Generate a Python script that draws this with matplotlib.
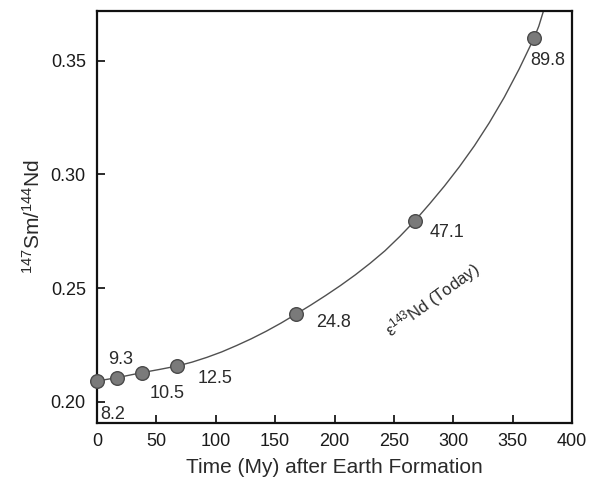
import matplotlib
matplotlib.use("Agg")
import matplotlib.pyplot as plt

plt.rcParams['font.family'] = ['Liberation Sans', 'DejaVu Sans']
plt.rcParams['mathtext.fontset'] = 'custom'
plt.rcParams['mathtext.rm'] = 'Liberation Sans'
plt.rcParams['mathtext.it'] = 'Liberation Sans'
plt.rcParams['mathtext.default'] = 'rm'

# Data points (time in My after Earth formation, 147Sm/144Nd)
time_my = [0, 17.2, 38, 67.5, 167.5, 267.5, 368]
sm_nd = [0.2091, 0.2106, 0.2128, 0.2157, 0.2385, 0.2795, 0.3600]
eps_labels = ["8.2", "9.3", "10.5", "12.5", "24.8", "47.1", "89.8"]

# Curve
curve_x = [0, 8.6, 17.2, 27.6, 38, 52.7, 67.5, 80, 92.5, 105, 117.5, 130,
           142.5, 155, 167.5, 180, 192.5, 205, 217.5, 230, 242.5, 255,
           267.5, 280, 292.6, 305.2, 317.8, 330.3, 342.9, 355.4, 368, 372, 376]
curve_y = [0.2091, 0.20985, 0.2106, 0.2117, 0.2128, 0.2142, 0.2157, 0.2174,
           0.2195, 0.2219, 0.2247, 0.2277, 0.2310, 0.2346, 0.2385, 0.2425,
           0.2467, 0.2511, 0.2558, 0.2609, 0.2664, 0.2727, 0.2795, 0.2870,
           0.2949, 0.3034, 0.3126, 0.3227, 0.3339, 0.3463, 0.3600, 0.3652, 0.3720]

x_ticks = [0, 50, 100, 150, 200, 250, 300, 350, 400]
y_ticks = [0.20, 0.25, 0.30, 0.35]

# label offsets in points (dx, dy)
label_offsets = [(11, -24), (2, 13), (18, -15), (27, -9), (27, -6), (23, -8), (10, -16)]

fig = plt.figure(figsize=(6.06, 4.84), dpi=100)
ax = fig.add_axes([0.160, 0.1254, 0.784, 0.8525])

ax.plot(curve_x, curve_y, color='#505050', lw=1.0, zorder=2, clip_on=True)
ax.plot(time_my, sm_nd, 'o', ms=9.8, mfc='#7a7a7a', mec='#4a4a4a', mew=1.0,
        zorder=3, clip_on=False)

for x, y, lab, (dx, dy) in zip(time_my, sm_nd, eps_labels, label_offsets):
    ax.annotate(lab, (x, y), xytext=(dx, dy), textcoords='offset points',
                ha='center', va='center', fontsize=13, color='#2a2a2a')

ax.text(282, 0.2449, r'ε$^{143}$Nd (Today)', rotation=36, ha='center', va='center',
        fontsize=12, color='#2a2a2a')

ax.set_xlim(0, 400)
ax.set_ylim(0.1905, 0.372)
ax.set_xticks(x_ticks)
ax.set_xticklabels([str(t) for t in x_ticks])
ax.set_yticks(y_ticks)
ax.set_yticklabels(["%.2f" % t for t in y_ticks])
ax.tick_params(direction='in', length=6, width=1.3, labelsize=13,
               colors='#1a1a1a')
ax.tick_params(axis='x', pad=7)
ax.tick_params(axis='y', pad=8)
for s in ax.spines.values():
    s.set_linewidth(1.6)
    s.set_color('#111111')

ax.set_xlabel('Time (My) after Earth Formation', fontsize=15, color='#2a2a2a', labelpad=6)
ax.set_ylabel(r'$^{147}$Sm/$^{144}$Nd', fontsize=15, color='#2a2a2a', labelpad=5)

fig.savefig('out.png', dpi=100)
